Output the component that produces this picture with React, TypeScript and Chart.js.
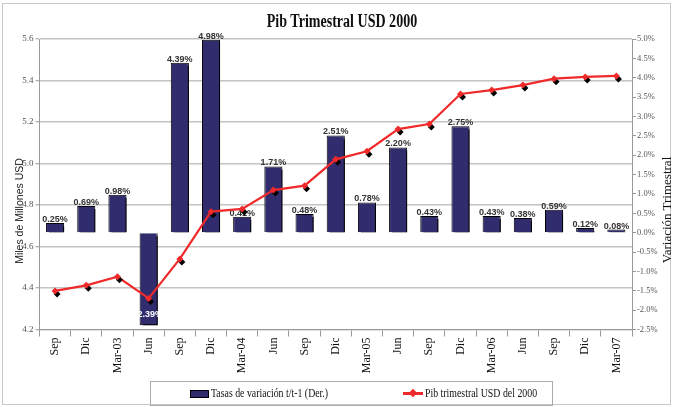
import React, { useEffect, useRef } from "react";
import { Chart, registerables } from "chart.js";

Chart.register(...registerables);

const categories = ["Sep", "Dic", "Mar-03", "Jun", "Sep", "Dic", "Mar-04", "Jun", "Sep", "Dic", "Mar-05", "Jun", "Sep", "Dic", "Mar-06", "Jun", "Sep", "Dic", "Mar-07"];
const tasas = [0.25, 0.69, 0.98, -2.39, 4.39, 4.98, 0.41, 1.71, 0.48, 2.51, 0.78, 2.2, 0.43, 2.75, 0.43, 0.38, 0.59, 0.12, 0.08];
const pib = [4.386, 4.413, 4.454, 4.35, 4.54, 4.768, 4.781, 4.872, 4.893, 5.02, 5.059, 5.166, 5.19, 5.335, 5.354, 5.378, 5.409, 5.417, 5.422];
const leftTicks = [4.2, 4.4, 4.6, 4.8, 5.0, 5.2, 5.4, 5.6];
const rightTicks = [-2.5, -2.0, -1.5, -1.0, -0.5, 0, 0.5, 1.0, 1.5, 2.0, 2.5, 3.0, 3.5, 4.0, 4.5, 5.0];

const TITLE = "Pib Trimestral USD 2000";
const LEFT_TITLE = "Miles de Millones USD";
const RIGHT_TITLE = "Variación Trimestral";
const BAR_LABEL = "Tasas de variación t/t-1 (Der.)";
const LINE_LABEL = "Pib trimestral USD del 2000";

const NAVY = "#312C6E";
const RED = "#F02A2A";

const decorPlugin = {
  id: "decor",
  beforeDatasetDraw(chart: any, args: any) {
    const ds: any = chart.data.datasets[args.index];
    if (ds.shadow) {
      const c = chart.ctx;
      c.save();
      c.shadowColor = "#000";
      c.shadowOffsetX = ds.shadow[0];
      c.shadowOffsetY = ds.shadow[1];
      c.shadowBlur = 0;
    }
  },
  afterDatasetDraw(chart: any, args: any) {
    const ds: any = chart.data.datasets[args.index];
    if (ds.shadow) chart.ctx.restore();
    if (ds.valueLabels) {
      const meta = chart.getDatasetMeta(args.index);
      const c = chart.ctx;
      c.save();
      c.font = 'bold 9px "Liberation Sans Narrow", "Liberation Sans", Arial';
      c.textAlign = "center";
      meta.data.forEach((el: any, i: number) => {
        const v = ds.data[i] as number;
        const t = v.toFixed(2) + "%";
        if (v >= 0) {
          c.fillStyle = "#333";
          c.textBaseline = "alphabetic";
          c.fillText(t, el.x, el.y - 1);
        } else {
          c.fillStyle = "#fff";
          c.textBaseline = "middle";
          c.fillText(t, el.x, el.y - 11);
        }
      });
      c.restore();
    }
  },
};

export default function App() {
  const ref = useRef<HTMLCanvasElement | null>(null);

  useEffect(() => {
    document.body.style.margin = "0";
    const canvas = ref.current;
    if (!canvas) return;
    const chart = new Chart(canvas, {
      type: "bar",
      data: {
        labels: categories,
        datasets: [
          {
            type: "bar",
            label: BAR_LABEL,
            data: tasas,
            yAxisID: "y1",
            backgroundColor: NAVY,
            borderColor: "#000",
            borderWidth: 1,
            categoryPercentage: 1,
            barPercentage: 0.58,
            order: 3,
            shadow: [3, 3],
            valueLabels: true,
          } as any,
          {
            type: "line",
            label: LINE_LABEL,
            data: pib,
            yAxisID: "y",
            borderColor: RED,
            borderWidth: 2.2,
            pointRadius: 0,
            tension: 0,
            order: 1,
          } as any,
          {
            type: "line",
            label: "",
            data: pib,
            yAxisID: "y",
            showLine: false,
            pointStyle: "rectRot",
            pointRadius: 3.5,
            pointBackgroundColor: RED,
            pointBorderWidth: 0,
            order: 0,
            shadow: [2, 3],
          } as any,
        ],
      },
      options: {
        animation: false,
        responsive: false,
        layout: { padding: { top: 39, left: 0, right: 0, bottom: 0 } },
        plugins: {
          legend: { display: false },
          tooltip: { enabled: false },
          title: { display: false },
        },
        scales: {
          x: {
            type: "category",
            offset: true,
            grid: { offset: true, drawOnChartArea: false, drawTicks: true, tickLength: 7, color: "#999" },
            border: { color: "#999" },
            ticks: {
              maxRotation: 90,
              minRotation: 90,
              autoSkip: false,
              padding: 1,
              color: "#111",
              font: { family: '"Liberation Serif", serif', size: 12 },
            },
            afterFit: (s: any) => {
              s.height = 77.5;
            },
          },
          y: {
            position: "left",
            min: 4.2,
            max: 5.6,
            afterBuildTicks: (s: any) => {
              s.ticks = leftTicks.map((v) => ({ value: v }));
            },
            grid: { color: "#c4c4c4", lineWidth: 1.5, tickLength: 4, tickColor: "#999", tickWidth: 1 },
            border: { color: "#999" },
            ticks: {
              padding: 2,
              color: "#555",
              font: { family: '"Liberation Serif", serif', size: 9 },
              callback: (v: any) => Number(v).toFixed(1),
            },
            afterFit: (s: any) => {
              s.width = 39.5;
            },
          },
          y1: {
            position: "right",
            min: -2.5,
            max: 5,
            afterBuildTicks: (s: any) => {
              s.ticks = rightTicks.map((v) => ({ value: v }));
            },
            grid: { drawOnChartArea: false, tickLength: 4, color: "#999" },
            border: { color: "#999" },
            ticks: {
              padding: 1,
              color: "#555",
              font: { family: '"Liberation Serif", serif', size: 8.5 },
              callback: (v: any) => Number(v).toFixed(1) + "%",
            },
            afterFit: (s: any) => {
              s.width = 42;
            },
          },
        },
      } as any,
      plugins: [decorPlugin],
    });
    return () => chart.destroy();
  }, []);

  return (
    <div style={{ position: "absolute", left: 0, top: 0, width: 674, height: 407, background: "#fff", overflow: "hidden" }}>
      <div style={{ position: "absolute", left: 2, top: 3, width: 669, height: 402, border: "1px solid #c8c8c8", boxSizing: "border-box" }} />
      <canvas ref={ref} width={674} height={407} style={{ position: "absolute", left: 0, top: 0, display: "block" }} />
      <div
        style={{
          position: "absolute",
          left: 142,
          top: 11,
          width: 400,
          textAlign: "center",
          fontFamily: '"Liberation Serif", serif',
          fontWeight: "bold",
          fontSize: 18,
          lineHeight: "20px",
          color: "#111",
          transform: "scaleX(0.78)",
          whiteSpace: "nowrap",
        }}
      >
        {TITLE}
      </div>
      <div
        style={{
          position: "absolute",
          left: 19 - 80,
          top: 211 - 7,
          width: 160,
          height: 14,
          lineHeight: "14px",
          textAlign: "center",
          fontFamily: '"Liberation Sans", Arial, sans-serif',
          fontSize: 10.5,
          color: "#222",
          transform: "rotate(-90deg)",
          whiteSpace: "nowrap",
        }}
      >
        {LEFT_TITLE}
      </div>
      <div
        style={{
          position: "absolute",
          left: 667 - 80,
          top: 210 - 8,
          width: 160,
          height: 16,
          lineHeight: "16px",
          textAlign: "center",
          fontFamily: '"Liberation Serif", serif',
          fontSize: 13,
          color: "#111",
          transform: "rotate(-90deg)",
          whiteSpace: "nowrap",
        }}
      >
        {RIGHT_TITLE}
      </div>
      <div
        style={{
          position: "absolute",
          left: 150,
          top: 381,
          width: 403,
          height: 25,
          border: "1px solid #aaa",
          boxSizing: "border-box",
          fontFamily: '"Liberation Serif", serif',
          fontSize: 12,
          color: "#111",
        }}
      >
        <div style={{ position: "absolute", left: 39, top: 8, width: 17, height: 6, background: NAVY, border: "1px solid #000" }} />
        <div style={{ position: "absolute", left: 60, top: 4, lineHeight: "15px", whiteSpace: "nowrap", transform: "scaleX(0.82)", transformOrigin: "left center" }}>{BAR_LABEL}</div>
        <div style={{ position: "absolute", left: 252, top: 10, width: 20, height: 2.5, background: RED }} />
        <div style={{ position: "absolute", left: 259, top: 8, width: 6, height: 6, background: RED, transform: "rotate(45deg)" }} />
        <div style={{ position: "absolute", left: 274, top: 4, lineHeight: "15px", whiteSpace: "nowrap", transform: "scaleX(0.82)", transformOrigin: "left center" }}>{LINE_LABEL}</div>
      </div>
    </div>
  );
}
